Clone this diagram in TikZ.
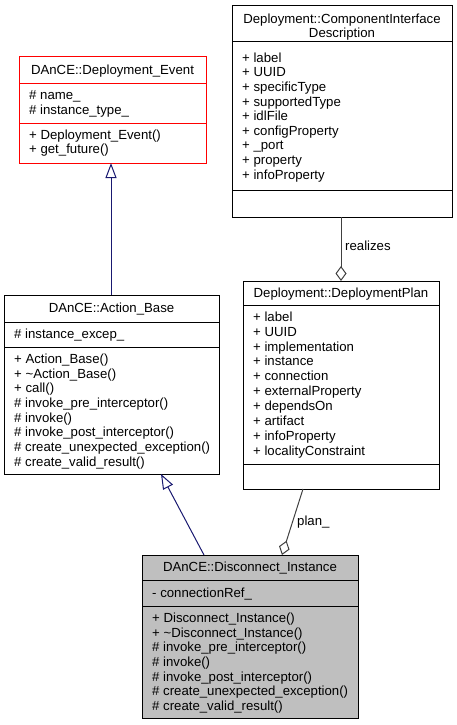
\documentclass[tikz,border=0pt]{standalone}
\usepackage{fontspec}
\setmainfont{Liberation Sans}
\usetikzlibrary{arrows.meta,calc}
\definecolor{inhcol}{HTML}{191970}
\definecolor{aggcol}{HTML}{404040}
\definecolor{hlcol}{HTML}{BFBFBF}
\begin{document}
\begin{tikzpicture}[x=1pt,y=-1pt,
  font=\fontsize{13.2}{14.7}\selectfont,
  classbox/.style={draw=black, line width=1pt, inner sep=0, outer sep=0, anchor=north west},
  sepline/.style={draw=black, line width=1pt},
  hdr/.style={anchor=center, inner sep=0, text height=9.5pt, text depth=2.8pt, yshift=-1pt},
  mem/.style={anchor=west, inner sep=0, text height=9.5pt, text depth=2.8pt, yshift=-1pt},
  lbl/.style={anchor=west, inner sep=0, text height=9.5pt, text depth=2.8pt, yshift=-1pt},
  inharrow/.style={draw=inhcol, line width=1pt, -{Triangle[open, length=15pt, width=11pt, line width=1pt]}},
  aggarrow/.style={draw=aggcol, line width=1pt, -{Diamond[open, length=15pt, width=11pt, line width=1pt]}}
]
\useasboundingbox (0,0) rectangle (456,725);

% ---------- DAnCE::Deployment_Event ----------
\node[classbox, draw=red, minimum width=187pt, minimum height=106pt] (de) at (19,57) {};
\draw[sepline, draw=red] (19,83) -- (206,83);
\draw[sepline, draw=red] (19,123) -- (206,123);
\node[hdr] (de-h) at (112.5,70) {DAnCE::Deployment\_Event};
\node[mem] (de-a0) at (29,95) {\# name\_};
\node[mem] (de-a1) at (29,110) {\# instance\_type\_};
\node[mem] (de-m0) at (29,135) {+ Deployment\_Event()};
\node[mem] (de-m1) at (29,149) {+ get\_future()};

% ---------- DAnCE::Action_Base ----------
\node[classbox, minimum width=215pt, minimum height=179pt] (ab) at (4,295) {};
\draw[sepline] (4,322) -- (219,322);
\draw[sepline] (4,347) -- (219,347);
\node[hdr] (ab-h) at (111.5,308) {DAnCE::Action\_Base};
\node[mem] (ab-a0) at (14,334) {\# instance\_excep\_};
\foreach \t [count=\i from 0] in {+ Action\_Base(), + \textasciitilde Action\_Base(), + call(),
  \# invoke\_pre\_interceptor(), \# invoke(), \# invoke\_post\_interceptor(),
  \# create\_unexpected\_exception(), \# create\_valid\_result()}
  \node[mem] (ab-m\i) at (14,{359+14.7*\i}) {\t};

% ---------- Deployment::ComponentInterfaceDescription ----------
\node[classbox, minimum width=220pt, minimum height=211pt] (cid) at (232,6) {};
\draw[sepline] (232,42) -- (452,42);
\draw[sepline] (232,190) -- (452,190);
\node[hdr] (cid-h1) at (342,19) {Deployment::ComponentInterface};
\node[hdr] (cid-h2) at (342,33) {Description};
\foreach \t [count=\i from 0] in {+ label, + UUID, + specificType, + supportedType, + idlFile,
  + configProperty, + \_port, + property, + infoProperty}
  \node[mem] (cid-a\i) at (242,{58+14.6*\i}) {\t};

% ---------- Deployment::DeploymentPlan ----------
\node[classbox, minimum width=196pt, minimum height=208pt] (dp) at (243,281) {};
\draw[sepline] (243,305) -- (439,305);
\draw[sepline] (243,464) -- (439,464);
\node[hdr] (dp-h) at (341,293) {Deployment::DeploymentPlan};
\foreach \t [count=\i from 0] in {+ label, + UUID, + implementation, + instance, + connection,
  + externalProperty, + dependsOn, + artifact, + infoProperty, + localityConstraint}
  \node[mem] (dp-a\i) at (253,{317+14.85*\i}) {\t};

% ---------- DAnCE::Disconnect_Instance ----------
\node[classbox, fill=hlcol, minimum width=216pt, minimum height=163pt] (di) at (142,555) {};
\draw[sepline] (142,580) -- (358,580);
\draw[sepline] (142,606) -- (358,606);
\node[hdr] (di-h) at (250,567) {DAnCE::Disconnect\_Instance};
\node[mem] (di-a0) at (152,593) {- connectionRef\_};
\foreach \t [count=\i from 0] in {+ Disconnect\_Instance(), + \textasciitilde Disconnect\_Instance(),
  \# invoke\_pre\_interceptor(), \# invoke(), \# invoke\_post\_interceptor(),
  \# create\_unexpected\_exception(), \# create\_valid\_result()}
  \node[mem] (di-m\i) at (152,{618+14.7*\i}) {\t};

% ---------- connectors ----------
\coordinate (ab-top) at ($(ab.north west)+(107,0)$);
\draw[inharrow] (ab-top) -- (ab-top |- de.south);

\coordinate (di-inh) at ($(di.north west)+(62,0)$);
\coordinate (ab-inh) at ($(ab.south west)+(157,0)$);
\draw[inharrow] (di-inh) -- (ab-inh);

\coordinate (dp-top) at ($(dp.north west)+(98,0)$);
\draw[aggarrow] (dp-top |- cid.south) -- (dp-top);
\node[lbl] (lbl-real) at (345,246) {realizes};

\coordinate (dp-bot) at ($(dp.south west)+(60,0)$);
\coordinate (di-agg) at ($(di.north west)+(140,0)$);
\draw[aggarrow] (dp-bot) -- (di-agg);
\node[lbl] (lbl-plan) at (297,521) {plan\_};
\end{tikzpicture}
\end{document}
